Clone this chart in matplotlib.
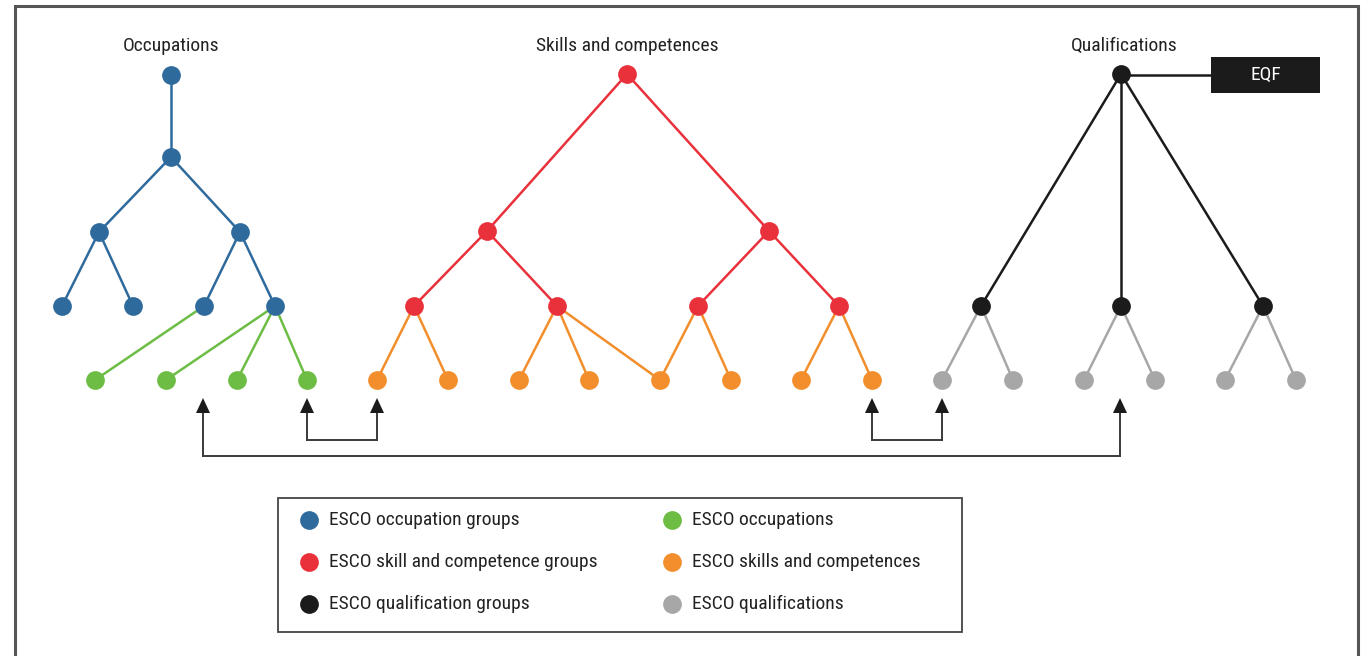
import matplotlib
matplotlib.use("Agg")
import matplotlib.pyplot as plt
from matplotlib.patches import Rectangle
from matplotlib import font_manager

# ---- data ----
tree_titles = ["Occupations", "Skills and competences", "Qualifications"]
legend_labels = ["ESCO occupation groups", "ESCO skill and competence groups",
                 "ESCO qualification groups", "ESCO occupations",
                 "ESCO skills and competences", "ESCO qualifications"]
side_label = "EQF"

# node layout (pixel grid of the diagram)
occ_group_nodes = [(171, 75), (171, 157), (99, 232), (240, 232),
                   (62, 306), (133, 306), (204, 306), (275, 306)]
occ_group_edges = [(0, 1), (1, 2), (1, 3), (2, 4), (2, 5), (3, 6), (3, 7)]
occ_leaf_nodes = [(95, 380), (166, 380), (237, 380), (307, 380)]
occ_leaf_edges = [(6, 0), (7, 1), (7, 2), (7, 3)]

sk_group_nodes = [(627, 74), (487, 231), (769, 231),
                  (414, 306), (557, 306), (698, 306), (839, 306)]
sk_group_edges = [(0, 1), (0, 2), (1, 3), (1, 4), (2, 5), (2, 6)]
sk_leaf_nodes = [(377, 380), (448, 380), (519, 380), (589, 380),
                 (660, 380), (731, 380), (801, 380), (872, 380)]
sk_leaf_edges = [(3, 0), (3, 1), (4, 2), (4, 3), (4, 4), (5, 4), (5, 5), (6, 6), (6, 7)]

q_group_nodes = [(1121, 74), (981, 306), (1121, 306), (1263, 306)]
q_group_edges = [(0, 1), (0, 2), (0, 3)]
q_leaf_nodes = [(942, 380), (1013, 380), (1084, 380), (1155, 380), (1225, 380), (1296, 380)]
q_leaf_edges = [(1, 0), (1, 1), (2, 2), (2, 3), (3, 4), (3, 5)]

colors = {"occ_g": "#2f6a9c", "occ_l": "#6dbd45", "sk_g": "#e8313b",
          "sk_l": "#f28e2b", "q_g": "#1b1b1b", "q_l": "#a7a7a7"}

# ---- fonts ----
names = {f.name for f in font_manager.fontManager.ttflist}
narrow = None
for cand in ["Liberation Sans Narrow", "Roboto Condensed", "Open Sans Condensed",
             "DejaVu Sans Condensed", "Noto Sans Condensed"]:
    if cand in names:
        narrow = cand
        break
if narrow:
    plt.rcParams["font.family"] = [narrow, "DejaVu Sans"]
    FS = 14
else:
    plt.rcParams["font.family"] = ["Roboto", "DejaVu Sans"]
    FS = 12

W, H = 1365, 656
fig = plt.figure(figsize=(W / 100, H / 100), dpi=100)
ax = fig.add_axes([0, 0, 1, 1])
ax.set_xlim(0, W)
ax.set_ylim(H, 0)
ax.axis("off")

# outer frame (open at bottom)
ax.plot([15, 15, 1358, 1358], [H + 5, 6, 6, H + 5], color="#555555", lw=2.2, zorder=1,
        solid_joinstyle="miter")

MS = 13.5
LW = 1.8


def draw_tree(gn, ge, ln, le, cg, cl):
    for a, b in ge:
        ax.plot([gn[a][0], gn[b][0]], [gn[a][1], gn[b][1]], color=cg, lw=LW, zorder=2)
    for a, b in le:
        ax.plot([gn[a][0], ln[b][0]], [gn[a][1], ln[b][1]], color=cl, lw=LW, zorder=2)
    ax.plot([p[0] for p in gn], [p[1] for p in gn], "o", color=cg, ms=MS, mec="none", zorder=3)
    ax.plot([p[0] for p in ln], [p[1] for p in ln], "o", color=cl, ms=MS, mec="none", zorder=3)


draw_tree(occ_group_nodes, occ_group_edges, occ_leaf_nodes, occ_leaf_edges, colors["occ_g"], colors["occ_l"])
draw_tree(sk_group_nodes, sk_group_edges, sk_leaf_nodes, sk_leaf_edges, colors["sk_g"], colors["sk_l"])
draw_tree(q_group_nodes, q_group_edges, q_leaf_nodes, q_leaf_edges, colors["q_g"], colors["q_l"])

# titles
for (x, y), t in zip([(171, 46), (627, 46), (1124, 46)], tree_titles):
    ax.text(x, y, t, ha="center", va="center", fontsize=FS, color="#222222", zorder=4)

# EQF box
ax.plot([1121, 1211], [75, 75], color="#1b1b1b", lw=LW, zorder=2)
ax.add_patch(Rectangle((1211, 57), 109, 36, facecolor="#1b1b1b", edgecolor="none", zorder=3))
ax.text(1265.5, 75, side_label, ha="center", va="center", color="white", fontsize=FS, zorder=4)

# connector arrows
ac = "#3a3a3a"
def up_arrow(x, ybot):
    ax.plot([x, x], [ybot, 410], color=ac, lw=1.4, zorder=2)
    ax.fill([x - 7, x + 7, x], [413, 413, 398], color="#1b1b1b", zorder=3, lw=0)

for x0, x1, yb in [(307, 377, 440), (872, 942, 440), (203, 1120, 456)]:
    ax.plot([x0, x1], [yb, yb], color=ac, lw=1.4, zorder=2)
    up_arrow(x0, yb)
    up_arrow(x1, yb)

# legend box
ax.add_patch(Rectangle((278, 498), 684, 134, facecolor="white", edgecolor="#444444", lw=1.3, zorder=2))
leg_cols = [colors["occ_g"], colors["sk_g"], colors["q_g"], colors["occ_l"], colors["sk_l"], colors["q_l"]]
for i, (lab, c) in enumerate(zip(legend_labels, leg_cols)):
    col, row = divmod(i, 3)
    mx = 309 if col == 0 else 672
    y = 520 + row * 42
    ax.plot([mx], [y], "o", color=c, ms=MS, mec="none", zorder=3)
    ax.text(mx + 20, y, lab, ha="left", va="center", fontsize=FS, color="#222222", zorder=4)

fig.savefig("out.png", dpi=100, facecolor="white")
